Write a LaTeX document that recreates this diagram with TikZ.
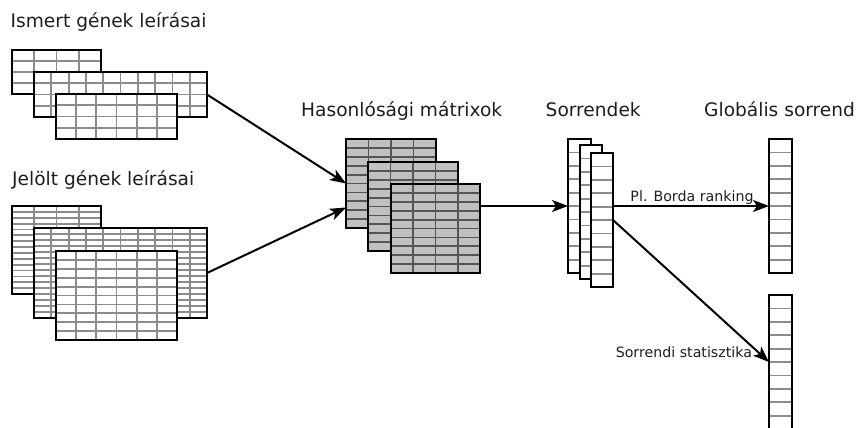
\documentclass[tikz,border=0pt]{standalone}
\usepackage{fontspec}
\newfontfamily\dejavu{DejaVu Sans}
\usetikzlibrary{arrows.meta}

\definecolor{matfill}{HTML}{C0C0C0}
\definecolor{matgrid}{HTML}{555555}
\definecolor{tabgrid}{HTML}{8C8C8C}
\definecolor{ink}{HTML}{1E1E1E}

\tikzset{
  frame/.style={draw=black, line width=2pt},
  cell/.style={inner sep=0pt, outer sep=0pt, anchor=north west},
  heading/.style={font=\dejavu\fontsize{18.6}{22}\selectfont, text=ink, anchor=base west, inner sep=0pt},
  edgelabel/.style={font=\dejavu\fontsize{14.2}{17}\selectfont, text=ink, anchor=base east, inner sep=0pt},
  link/.style={draw=black, line width=2pt, -{Stealth[length=16pt,width=12pt,inset=4pt]}},
}

% \gridbox{name}{x}{y}{w}{h}{cols}{rows}{fill}{grid colour}
\newcommand\gridbox[9]{%
  \node[cell, fill=#8, minimum width=#4pt, minimum height=#5pt] (#1) at (#2,#3) {};
  \foreach \ci in {1,...,#6} \draw[#9, line width=1.8pt] ({#2+\ci*#4/#6},#3) -- ++(0,#5);
  \foreach \ri in {1,...,#7} \draw[#9, line width=1.8pt] (#2,{#3+\ri*#5/#7}) -- ++(#4,0);
  \draw[frame] (#1.north west) rectangle (#1.south east);
}

\begin{document}
\begin{tikzpicture}[x=1pt,y=-1pt]
  \useasboundingbox[fill=white] (0,0) rectangle (857,428);

  % descriptions of known genes
  \gridbox{ism1}{12}{50}{89}{44}{4}{4}{white}{tabgrid}
  \gridbox{ism2}{34}{72}{173}{45}{10}{4}{white}{tabgrid}
  \gridbox{ism3}{56}{94}{121}{45}{6}{4}{white}{tabgrid}

  % descriptions of candidate genes
  \gridbox{jel1}{12}{206}{89}{88}{4}{15}{white}{tabgrid}
  \gridbox{jel2}{34}{228}{173}{90}{10}{15}{white}{tabgrid}
  \gridbox{jel3}{56}{251}{121}{89}{6}{10}{white}{tabgrid}

  % similarity matrices
  \gridbox{mat1}{346}{139}{90}{89}{4}{10}{matfill}{matgrid}
  \gridbox{mat2}{368}{162}{90}{89}{4}{10}{matfill}{matgrid}
  \gridbox{mat3}{391}{184}{89}{89}{4}{10}{matfill}{matgrid}

  % rankings
  \gridbox{rnk1}{568}{139}{23}{134}{1}{10}{white}{tabgrid}
  \gridbox{rnk2}{580}{145}{22}{134}{1}{10}{white}{tabgrid}
  \gridbox{rnk3}{591}{153}{22}{134}{1}{10}{white}{tabgrid}

  % global rankings
  \gridbox{glob1}{769}{139}{23}{134}{1}{10}{white}{tabgrid}
  \gridbox{glob2}{769}{295}{23}{134}{1}{10}{white}{tabgrid}

  % headings
  \node[heading] (tKnown) at (10.5,28) {Ismert gének leírásai};
  \node[heading] (tCand)  at (12,185.5) {Jelölt gének leírásai};
  \node[heading] (tSim)   at (301,116.5) {Hasonlósági mátrixok};
  \node[heading] (tOrd)   at (545.5,116.5) {Sorrendek};
  \node[heading] (tGlob)  at (704,116.5) {Globális sorrend};

  % data flow
  \draw[link] (ism2.east) -- (mat1.west);
  \draw[link] (jel2.east) -- ([yshift=-24pt]mat1.west);
  \draw[link] ([yshift=22.5pt]mat3.east) -- (rnk1.west);
  \draw[link] ([yshift=14pt]rnk3.east) -- (glob1.west)
    node[edgelabel, pos=1, xshift=-14.5pt, yshift=4.5pt] {Pl. Borda ranking};
  \draw[link] (rnk3.east) -- (glob2.west)
    node[edgelabel, pos=1, xshift=-16pt, yshift=4.5pt] {Sorrendi statisztika};
\end{tikzpicture}
\end{document}
